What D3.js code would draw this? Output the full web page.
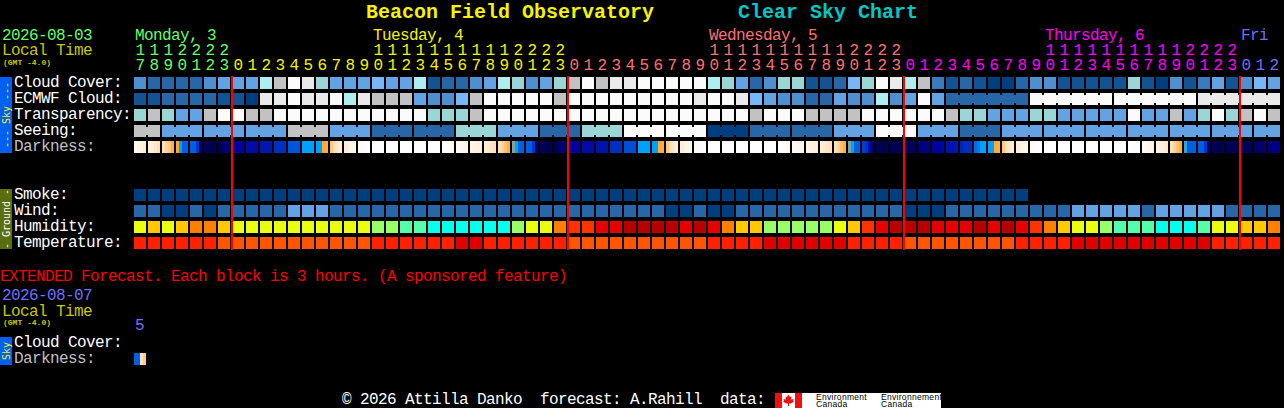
<!DOCTYPE html>
<html><head><meta charset="utf-8">
<script src="https://cdnjs.cloudflare.com/ajax/libs/d3/7.8.5/d3.min.js"></script>
<style>
html,body{margin:0;padding:0;background:#000;overflow:hidden}
svg{display:block}
text{font-family:"Liberation Mono",monospace;font-size:16px;letter-spacing:-0.6px;white-space:pre}
rect{shape-rendering:crispEdges}
</style></head><body><svg id="c" width="1284" height="408"></svg>
<script>
// ---------- data ----------
const hours = [17,18,19,20,21,22,23,
  ...Array.from({length:3}).flatMap(()=>[0,1,2,3,4,5,6,7,8,9,10,11,12,13,14,15,16,17,18,19,20,21,22,23]),0,1,2];
const dayLabels = [["Monday, 3",0,0],["Tuesday, 4",17,1],["Wednesday, 5",41,2],["Thursday, 6",65,3],["Fri",79,4]];
const dayColors = ["#66ff66","#f4f400","#ff7070","#ff00ff","#6f6fff"];
const dayStarts = [7,31,55,79];
const skyRows = ["Cloud Cover:","ECMWF Cloud:","Transparency:","Seeing:","Darkness:"];
const groundRows = ["Smoke:","Wind:","Humidity:","Temperature:"];

// cloud-like classes 0 (clear) .. 11 (overcast)
const cloudCover = [4,2,2,2,2,4,5,
  5,5,8,9,11,10,7,5,5,5,6,5,5,8,1,2,2,4,5,8,7,4,5,7,
  9,11,9,10,10,11,11,11,11,11,8,7,5,2,4,7,7,1,1,2,6,7,11,10,
  8,9,3,1,2,1,0,0,2,4,4,1,1,1,1,1,7,1,0,4,1,3,5,1,
  4,6,5];
const ecmwf = [1,1,2,2,2,2,1,
  1,0,10,10,11,10,10,11,8,10,9,9,9,5,4,4,6,9,11,11,11,11,11,9,
  11,11,11,11,11,11,11,11,11,10,11,11,10,6,5,4,4,2,2,5,4,4,8,4,
  5,11,5,2,2,2,2,2,2,11,11,11,11,11,11,11,11,11,11,11,11,10,10,10,
  10,10,10];
const ecmwfJoins = [[58,6],[64,6],[70,6],[76,6]];
const transparency = [7,9,7,5,5,9,11,
  11,9,9,11,11,11,11,11,11,11,11,11,11,11,7,7,7,9,11,11,11,11,11,11,
  11,11,11,11,11,11,11,11,11,11,11,11,11,9,11,11,11,9,9,9,9,11,11,11,
  11,11,11,9,7,7,5,5,5,7,7,5,5,5,5,5,11,5,5,9,5,7,11,7,
  9,11,9];
const seeingBlocks = [[2,9],[3,5],[3,5],[3,5],[3,9],[3,5],[3,2],[3,2],[3,7],[3,5],[3,2],[3,7],[3,11],[3,11],[3,0],[3,2],[3,2],[3,5],[3,11],[3,5],[3,2],[3,5],[3,5],[3,5],[3,5],[3,5],[3,5],[2,5]];
const smoke = Array.from({length:64}).map(()=>0);
const wind = [2,2,0,0,2,0,2,
  2,2,2,2,5,5,5,2,2,2,2,2,2,2,2,2,2,2,2,2,2,2,2,2,
  2,2,2,2,2,2,2,0,0,2,0,0,2,2,2,2,2,2,2,2,2,2,2,2,
  0,0,0,2,2,2,2,2,2,2,2,2,5,5,5,5,5,2,5,5,5,5,5,2,
  2,2,2];
const humidity = [5,4,5,4,3,3,4,
  5,5,5,5,5,5,5,5,5,5,6,6,7,7,8,8,8,8,8,8,6,5,5,3,
  2,2,1,1,0,0,0,0,1,0,1,3,4,4,6,6,6,6,6,5,4,2,1,0,
  0,0,1,1,1,0,1,0,1,2,3,4,5,5,6,7,7,7,8,8,8,7,5,5,
  4,4,3];
const temperature = [1,1,1,1,1,1,2,
  2,2,2,2,2,2,2,2,2,2,1,1,1,1,1,1,0,0,1,1,1,1,1,1,
  2,2,2,2,2,2,2,2,2,2,1,1,1,1,0,0,0,0,0,0,1,1,1,1,
  2,2,2,2,2,2,2,2,1,1,1,1,0,0,0,0,0,0,0,0,0,0,1,1,
  1,1,1];
// darkness: four sub-samples per hour, class 0 (daylight) .. 14 (full dark)
const darkness = [
 [.5,1,1.5,2],[2,2,2.5,3],[3,3.5,4,4.8],[5,6,7,7],[7,7,8.5,12],[13.5,14,14,13.5],[14,13,12.5,12],
 [11,11,11,11],[10.6,10.6,10.6,10.6],[10,10,10,10],[9,9,9,9],[7.3,7.3,7.3,7.3],[6,6,6,6],[6,6,5,4.8],[4,3,2.5,2],[2,1.5,1,1],[.5,.3,.2,0],
 [0,0,0,0],[0,0,0,0],[0,0,0,0],[0,0,0,0],[0,0,0,0],[0,.1,.2,.3],[.5,.7,.8,1],[1,1.3,1.6,2],[2,2.3,2.6,3],[3,3.6,4.2,4.8],[5.5,6,7,7],[7,7,8.5,12],[13.5,14,14,13.5],[14,13,12.5,12],
 [11,11,11,11],[10.6,10.6,10.6,10.6],[10.2,10.2,10.2,10.2],[9,9,9,9],[7.6,7.6,7.6,7.6],[6,6,6,6],[6,6,5,4.8],[4,3,2.5,2],[2,1.5,1,1],[.5,.3,.2,0],
 [0,0,0,0],[0,0,0,0],[0,0,0,0],[0,0,0,0],[0,0,0,0],[0,.1,.2,.3],[.5,.7,.8,1],[1,1.3,1.6,2],[2,2.3,2.6,3],[3,3.6,4.2,4.8],[5.5,6,7,7],
 [8,9,10.5,12.5],[13.5,14,14,13.5],[14,14,13.8,13.5],[13.5,13.4,13.2,13],[12.5,12.3,12,12],[11,11,11,10.8],[10.2,10.2,10.2,10],[9.5,9.2,9,9],[6.8,6.6,6,6],[6,6,5,4.8],[4,3,2.5,2],[2,1.5,1,1],
 [.6,.4,.2,0],[0,0,0,0],[0,0,0,0],[0,0,0,0],[0,0,0,0],[0,0,0,0],[0,0,0,0],[0,.1,.2,.3],[.5,.8,1,1.2],[1.5,1.8,2,2.4],[3,3.6,4.2,4.8],[5.8,7,7,7],
 [7,7,8.5,12],[13.5,14,14,13.5],[13.5,13.5,13.5,13.5],[13.8,13.8,13.6,13.5],[13,13,12.7,12.5],[12.2,12,11.8,11.6]
];
const extDarkness = [[7,7,3,3.8]];
const extRows = ["Cloud Cover:","Darkness:"];

// ---------- colour scales ----------
const cloudColor = d3.scaleOrdinal(d3.range(12),
  ["#003f7f","#135393","#2767a7","#3b7bbb","#4f8fcf","#63a3e3","#77b7f7","#9ad6d6","#aeeeee","#c2c2c2","#eaeaea","#fbfbfb"]);
const humColor = d3.scaleOrdinal(d3.range(9),
  ["#b80000","#e60000","#ff3300","#ff8000","#ffc800","#eaff10","#99ff66","#55ffaa","#08ffee"]);
const tempColor = d3.scaleOrdinal([0,1,2],["#e00000","#ff2000","#ff5500"]);
const darkColor = d3.scaleLinear(d3.range(15),
  ["#ffffff","#fff5e8","#ffeed8","#ffe0b8","#ffc880","#ffa830","#00a0ff","#0060e0","#0040d0","#0030c0","#0018b0","#0000a0","#000080","#000060","#000050"])
  .interpolate(d3.interpolateRgb);

// ---------- scales ----------
const svg = d3.select("#c");
const x = d3.scaleBand(d3.range(hours.length),[134,134+hours.length*14-2]).paddingInner(1/7);
const ySky = d3.scaleBand(skyRows,[77,153]).paddingInner(0.25);
const yGround = d3.scaleBand(groundRows,[189,249]).paddingInner(0.25);
const yExt = d3.scaleBand(extRows,[337,365]).paddingInner(0.25);
const bw = x.bandwidth();

function label(s,px,py,fill,extra){
  const t = svg.append("text").attr("x",px).attr("y",py).attr("fill",fill).text(s);
  if(extra) extra(t);
  return t;
}
function row(values,y,color){
  svg.append("g").selectAll("rect").data(values).join("rect")
    .attr("x",(d,i)=>x(i)).attr("y",y).attr("width",bw).attr("height",bw)
    .attr("fill",d=>color(d));
}
function joins(spans,y,color,values){
  svg.append("g").selectAll("rect")
    .data(spans.flatMap(([s,n])=>d3.range(s,s+n-1)))
    .join("rect")
    .attr("x",i=>x(i)+bw).attr("y",y+2).attr("width",x.step()-bw).attr("height",bw-4)
    .attr("fill",i=>color(values[i]));
}

// ---------- titles and header ----------
const big = t=>t.style("font-size","20px").style("font-weight","bold").style("letter-spacing","0");
label("Beacon Field Observatory",366,18,"#f4f400",big);
label("Clear Sky Chart",738,18,"#00c8c8",big);
const small = t=>t.style("font-size","8px").style("font-weight","bold").style("letter-spacing","0");
label("2026-08-03",2,40,"#66ff66");
label("Local Time",2,55,"#c8c800");
label("(GMT -4.0)",3,64.5,"#c8c800",small);
dayLabels.forEach(([s,i,c])=>label(s,x(i)+1,40,dayColors[c]));
let dayIdx=0;
hours.forEach((h,i)=>{
  if(dayStarts.includes(i)) dayIdx++;
  const c = dayColors[dayIdx];
  const mid = t=>t.attr("text-anchor","middle");
  if(h>=10) label(String(Math.floor(h/10)),x(i)+6,55,c,mid);
  label(String(h%10),x(i)+6,70,c,mid);
});

// ---------- side bars ----------
function sideBar(y0,y1,fill,txtFill,s){
  svg.append("rect").attr("x",0).attr("y",y0).attr("width",12).attr("height",y1-y0).attr("fill",fill);
  svg.append("text").attr("transform",`translate(9.5,${(y0+y1)/2}) rotate(-90)`)
    .attr("text-anchor","middle").attr("fill",txtFill)
    .style("font-family","'DejaVu Sans Mono',monospace").style("font-size","10px").style("letter-spacing","0").text(s);
}
sideBar(77,153,"#0060f0","#f4f400","--- Sky ---");
sideBar(189,249,"#5a6e10","#ffffff","- Ground -");
sideBar(337,365,"#0060f0","#f4f400","Sky");

// ---------- labels ----------
skyRows.forEach(r=>label(r,14,ySky(r)+9.5,r==="Darkness:"?"#c0c0c0":"#ffffff"));
groundRows.forEach(r=>label(r,14,yGround(r)+9.5,"#ffffff"));

// ---------- grid ----------
row(cloudCover,ySky("Cloud Cover:"),cloudColor);
row(ecmwf,ySky("ECMWF Cloud:"),cloudColor);
joins(ecmwfJoins,ySky("ECMWF Cloud:"),cloudColor,ecmwf);
row(transparency,ySky("Transparency:"),cloudColor);
const seeing = seeingBlocks.flatMap(([n,v])=>Array.from({length:n}).map(()=>v));
row(seeing,ySky("Seeing:"),cloudColor);
let off=0; const seeingSpans = seeingBlocks.map(([n])=>{const s=[off,n];off+=n;return s;});
joins(seeingSpans,ySky("Seeing:"),cloudColor,seeing);

function darkRow(cells,y){
  const sub = bw/4;
  svg.append("g").selectAll("g").data(cells).join("g")
    .attr("transform",(d,i)=>`translate(${x(i)},${y})`)
    .selectAll("rect").data(d=>d).join("rect")
    .attr("x",(d,j)=>j*sub).attr("y",0).attr("width",sub).attr("height",bw)
    .attr("fill",d=>darkColor(d));
}
darkRow(darkness,ySky("Darkness:"));

row(smoke,yGround("Smoke:"),cloudColor);
row(wind,yGround("Wind:"),cloudColor);
row(humidity,yGround("Humidity:"),humColor);
row(temperature,yGround("Temperature:"),tempColor);

// ---------- midnight lines ----------
svg.append("g").selectAll("rect").data(dayStarts).join("rect")
  .attr("x",i=>x(i)-1).attr("y",76).attr("width",2).attr("height",174).attr("fill","#ff0000");

// ---------- extended ----------
label("EXTENDED Forecast. Each block is 3 hours. (A sponsored feature)",0,281,"#ff0000");
label("2026-08-07",2,300,"#6f6fff");
label("Local Time",2,315.5,"#c8c800");
label("(GMT -4.0)",3,324.5,"#c8c800",small);
label("5",135,330,"#6f6fff");
extRows.forEach(r=>label(r,14,yExt(r)+9.5,r==="Darkness:"?"#c0c0c0":"#ffffff"));
darkRow(extDarkness,yExt("Darkness:"));

// ---------- footer ----------
label("\u00a9 2026 Attilla Danko  forecast: A.Rahill  data:",342,404,"#ffffff");
svg.append("rect").attr("x",775).attr("y",393).attr("width",166).attr("height",15).attr("fill","#fff");
svg.append("rect").attr("x",775).attr("y",393).attr("width",7).attr("height",15).attr("fill","#f01010");
svg.append("rect").attr("x",795).attr("y",393).attr("width",7).attr("height",15).attr("fill","#f01010");
svg.append("path").attr("transform","translate(788.5,400)").attr("fill","#f01010")
  .attr("d","M0,-5.5L1.5,-3L3,-3.5L2.5,-0.5L5,-1L4.5,1L5.5,1.5L2.5,3.5L0.5,3.5L0.5,6L-0.5,6L-0.5,3.5L-2.5,3.5L-5.5,1.5L-4.5,1L-5,-1L-2.5,-0.5L-3,-3.5L-1.5,-3Z");
const logo = t=>t.style("font-family","'Liberation Sans',sans-serif").style("font-size","8.5px").style("letter-spacing","0.3px");
svg.append("clipPath").attr("id","lg").append("rect").attr("x",775).attr("y",393).attr("width",166).attr("height",15);
[["Environment",816],["Environnement",881]].forEach(([s,px])=>label(s,px,400,"#000",logo).attr("clip-path","url(#lg)"));
[["Canada",816],["Canada",881]].forEach(([s,px])=>label(s,px,407,"#000",logo).attr("clip-path","url(#lg)"));
</script></body></html>
